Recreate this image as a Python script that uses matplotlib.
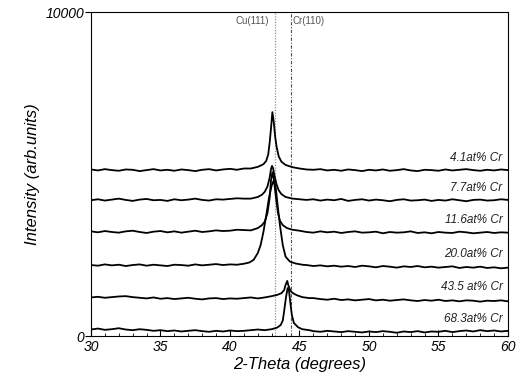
import numpy as np
import matplotlib.pyplot as plt
from matplotlib.ticker import MultipleLocator

plt.rcParams['font.family'] = ['Liberation Sans', 'DejaVu Sans']

# background scan on a 0.5 degree grid, 30..60
theta_bg = np.arange(30, 60.01, 0.5)

samples = ['4.1at% Cr', '7.7at% Cr', '11.6at% Cr', '20.0at% Cr', '43.5 at% Cr', '68.3at% Cr']

bg_41 = [5140, 5110, 5150, 5120, 5100, 5140, 5130, 5090, 5120, 5150,
         5110, 5130, 5100, 5140, 5120, 5090, 5130, 5150, 5110, 5140,
         5160, 5130, 5170, 5160, 5200, 5260, 5400, 5600, 5300, 5200,
         5170, 5140, 5130, 5150, 5110, 5130, 5100, 5140, 5120, 5090,
         5130, 5110, 5140, 5100, 5120, 5150, 5110, 5090, 5130, 5120,
         5100, 5140, 5110, 5130, 5150, 5120, 5100, 5130, 5110, 5140,
         5120]
bg_77 = [4190, 4220, 4180, 4210, 4240, 4200, 4170, 4210, 4230, 4190,
         4200, 4170, 4220, 4190, 4210, 4240, 4200, 4180, 4220, 4210,
         4230, 4250, 4240, 4270, 4300, 4400, 4600, 4500, 4300, 4260,
         4230, 4200, 4220, 4180, 4210, 4190, 4230, 4170, 4200, 4220,
         4180, 4210, 4190, 4160, 4200, 4220, 4180, 4190, 4210, 4170,
         4200, 4180, 4220, 4190, 4160, 4200, 4210, 4180, 4190, 4220,
         4200]
bg_116 = [3230, 3200, 3240, 3210, 3190, 3230, 3250, 3210, 3180, 3220,
          3240, 3200, 3230, 3190, 3220, 3250, 3210, 3230, 3260, 3240,
          3250, 3280, 3270, 3300, 3330, 3400, 3600, 3500, 3300, 3260,
          3240, 3210, 3190, 3230, 3200, 3220, 3180, 3210, 3230, 3190,
          3200, 3220, 3170, 3210, 3190, 3200, 3230, 3180, 3200, 3170,
          3210, 3190, 3180, 3220, 3200, 3170, 3190, 3210, 3180, 3200,
          3190]
bg_200 = [2190, 2170, 2210, 2180, 2200, 2160, 2190, 2210, 2170, 2200,
          2180, 2160, 2200, 2190, 2170, 2210, 2180, 2200, 2220, 2190,
          2210, 2230, 2240, 2300, 2400, 2600, 2800, 2600, 2400, 2300,
          2230, 2190, 2160, 2180, 2150, 2170, 2140, 2160, 2130, 2170,
          2150, 2120, 2160, 2140, 2110, 2150, 2130, 2160, 2120, 2140,
          2110, 2130, 2150, 2100, 2130, 2110, 2140, 2100, 2120, 2090,
          2110]
bg_435 = [1190, 1210, 1180, 1200, 1220, 1230, 1200, 1180, 1160, 1190,
          1150, 1170, 1140, 1160, 1180, 1150, 1130, 1160, 1170, 1140,
          1160, 1150, 1170, 1190, 1220, 1250, 1300, 1400, 1350, 1280,
          1230, 1190, 1170, 1140, 1120, 1150, 1110, 1130, 1100, 1120,
          1140, 1100, 1120, 1090, 1110, 1130, 1100, 1080, 1110, 1090,
          1120, 1080, 1100, 1070, 1100, 1090, 1060, 1090, 1080, 1100,
          1070]
bg_683 = [200, 230, 190, 210, 240, 200, 180, 210, 190, 160,
          180, 150, 170, 140, 160, 180, 150, 130, 160, 140,
          170, 150, 160, 180, 200, 240, 300, 400, 350, 250,
          200, 170, 150, 130, 160, 140, 120, 150, 130, 110,
          140, 120, 150, 130, 100, 140, 120, 150, 110, 140,
          130, 160, 120, 150, 170, 140, 180, 150, 170, 140,
          160]

# diffraction peak profiles read point by point
pk_theta_41 = [41.5, 42.0, 42.4, 42.6, 42.75, 42.85, 42.95, 43.05, 43.15, 43.25, 43.35, 43.5, 43.7, 44.0, 44.5, 45.0]
pk_41 = [5170, 5220, 5300, 5400, 5600, 5950, 6400, 6910, 6600, 6150, 5850, 5550, 5380, 5280, 5210, 5170]

pk_theta_77 = [41.5, 42.0, 42.3, 42.5, 42.7, 42.85, 42.95, 43.02, 43.1, 43.2, 43.35, 43.5, 43.7, 44.0, 44.5, 45.0]
pk_77 = [4240, 4290, 4360, 4450, 4620, 4880, 5150, 5250, 5180, 4950, 4680, 4500, 4380, 4290, 4240, 4220]

pk_theta_116 = [41.5, 42.0, 42.3, 42.5, 42.7, 42.85, 42.95, 43.05, 43.15, 43.3, 43.45, 43.6, 43.8, 44.1, 44.5, 45.0]
pk_116 = [3260, 3330, 3420, 3530, 3800, 4250, 4800, 5050, 4850, 4300, 3800, 3550, 3420, 3330, 3280, 3250]

pk_theta_200 = [40.5, 41.0, 41.4, 41.7, 42.0, 42.2, 42.4, 42.6, 42.8, 43.0, 43.15, 43.3, 43.45, 43.6, 43.8, 44.0, 44.3, 44.7, 45.2]
pk_200 = [2200, 2230, 2270, 2350, 2560, 2800, 3200, 3700, 4250, 4650, 4800, 4550, 3950, 3400, 2800, 2450, 2300, 2240, 2200]

pk_theta_435 = [42.0, 42.5, 43.0, 43.4, 43.7, 43.9, 44.0, 44.12, 44.2, 44.35, 44.5, 44.8, 45.2, 45.7]
pk_435 = [1160, 1190, 1230, 1270, 1320, 1420, 1580, 1700, 1560, 1400, 1330, 1260, 1200, 1170]

pk_theta_683 = [42.5, 43.0, 43.4, 43.65, 43.8, 43.9, 44.03, 44.15, 44.25, 44.35, 44.45, 44.6, 44.9, 45.2, 45.7]
pk_683 = [180, 210, 260, 340, 480, 780, 1200, 1480, 1380, 1000, 650, 400, 270, 210, 180]

backgrounds = [bg_41, bg_77, bg_116, bg_200, bg_435, bg_683]
peak_thetas = [pk_theta_41, pk_theta_77, pk_theta_116, pk_theta_200, pk_theta_435, pk_theta_683]
peaks = [pk_41, pk_77, pk_116, pk_200, pk_435, pk_683]
baselines = [5120, 4200, 3210, 2160, 1140, 150]

cu_111 = 43.25
cr_110 = 44.4

fig = plt.figure(figsize=(5.25, 3.81), dpi=100)
ax = fig.add_axes([0.1733, 0.1181, 0.7943, 0.8504])

ax.axvline(cu_111, color='#909090', lw=0.9, ls=(0, (1, 1.2)), zorder=1)
ax.axvline(cr_110, color='#505050', lw=0.8, ls=(0, (3, 1.5, 1, 1.5)), zorder=1)

for name, bg, pt, pk, base in zip(samples, backgrounds, peak_thetas, peaks, baselines):
    bg = np.array(bg)
    pt = np.array(pt)
    keep = (theta_bg < pt.min()) | (theta_bg > pt.max())
    x = np.concatenate([theta_bg[keep], pt])
    y = np.concatenate([bg[keep], np.array(pk)])
    order = np.argsort(x)
    ax.plot(x[order], y[order], color='black', lw=1.3, zorder=3)
    ax.text(59.6, base + 380, name, ha='right', va='center', fontsize=8.5,
            style='italic', color='#222222')

ax.text(cu_111 - 0.45, 9870, 'Cu(111)', ha='right', va='top', fontsize=7, color='#555555')
ax.text(cr_110 + 0.12, 9870, 'Cr(110)', ha='left', va='top', fontsize=7, color='#555555')

ax.set_xlim(30, 60)
ax.set_ylim(0, 10000)
ax.set_xticks([30, 35, 40, 45, 50, 55, 60])
ax.xaxis.set_minor_locator(MultipleLocator(1))
ax.set_yticks([0, 10000])
ax.tick_params(axis='x', which='major', direction='in', length=4, width=0.8, labelsize=10, pad=3)
ax.tick_params(axis='x', which='minor', direction='in', length=2.5, width=0.6)
ax.tick_params(axis='y', direction='out', length=4, width=0.8, labelsize=10, pad=1)
for lab in ax.get_xticklabels() + ax.get_yticklabels():
    lab.set_style('italic')

for sp in ax.spines.values():
    sp.set_linewidth(0.8)

ax.set_xlabel('2-Theta (degrees)', fontsize=12, style='italic', labelpad=2)
ax.set_ylabel('Intensity (arb.units)', fontsize=12, style='italic')
ax.yaxis.set_label_coords(-0.122, 0.5)

fig.savefig('out.png', dpi=100)
